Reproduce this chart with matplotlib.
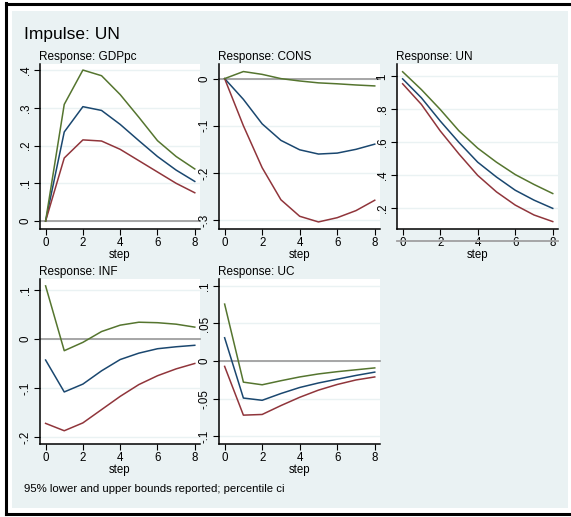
import numpy as np
import matplotlib
matplotlib.use("Agg")
from matplotlib import pyplot as plt
from matplotlib.patches import Rectangle
from matplotlib.lines import Line2D

plt.rcParams['font.family'] = ['Liberation Sans', 'DejaVu Sans']

steps = np.arange(9)

# orthogonalised irf of an UN shock, with 95% percentile bands
gdp_irf = [0, 0.236, 0.303, 0.293, 0.256, 0.213, 0.171, 0.135, 0.105]
gdp_lo = [0, 0.167, 0.215, 0.212, 0.190, 0.160, 0.130, 0.100, 0.075]
gdp_hi = [0, 0.309, 0.400, 0.385, 0.335, 0.275, 0.213, 0.171, 0.138]

cons_irf = [0, -0.044, -0.096, -0.131, -0.151, -0.160, -0.158, -0.150, -0.139]
cons_lo = [0, -0.100, -0.189, -0.257, -0.292, -0.304, -0.295, -0.280, -0.258]
cons_hi = [0, 0.015, 0.009, 0.0, -0.005, -0.009, -0.011, -0.0135, -0.0155]

un_irf = [0.985, 0.87, 0.73, 0.60, 0.48, 0.39, 0.31, 0.25, 0.20]
un_lo = [0.955, 0.83, 0.67, 0.53, 0.40, 0.30, 0.22, 0.16, 0.12]
un_hi = [1.028, 0.92, 0.80, 0.67, 0.565, 0.48, 0.405, 0.345, 0.29]

inf_irf = [-0.043, -0.108, -0.092, -0.065, -0.042, -0.029, -0.020, -0.016, -0.013]
inf_lo = [-0.172, -0.187, -0.171, -0.144, -0.117, -0.093, -0.075, -0.061, -0.050]
inf_hi = [0.108, -0.024, -0.007, 0.015, 0.028, 0.034, 0.033, 0.030, 0.024]

uc_irf = [0.031, -0.049, -0.052, -0.043, -0.035, -0.029, -0.024, -0.019, -0.0146]
uc_lo = [-0.007, -0.0717, -0.0708, -0.059, -0.048, -0.0385, -0.031, -0.025, -0.021]
uc_hi = [0.0757, -0.0279, -0.0314, -0.026, -0.021, -0.017, -0.014, -0.0115, -0.009]

yticks_gdp = [0, 0.1, 0.2, 0.3, 0.4]
yticks_cons = [0, -0.1, -0.2, -0.3]
yticks_un = [0.2, 0.4, 0.6, 0.8, 1]
yticks_inf = [0.1, 0, -0.1, -0.2]
yticks_uc = [0.1, 0.05, 0, -0.05, -0.1]

navy = '#1a476f'
maroon = '#90353b'
green = '#55752f'
bg = '#eaf2f3'

W, H = 571, 517
fig = plt.figure(figsize=(W / 100, H / 100), dpi=100)
fig.patch.set_facecolor('white')

# frame and graph region
fig.add_artist(Rectangle((12 / W, 1 - 508 / H), 556 / W, 497 / H, transform=fig.transFigure,
                         facecolor=bg, edgecolor='none', zorder=0))
for xs, ys in [((6, 571), (3.5, 3.5)), ((6, 6), (3, 514)), ((6, 571), (514, 514))]:
    fig.add_artist(Line2D([x / W for x in xs], [1 - y / H for y in ys], transform=fig.transFigure,
                          color='black', lw=2.2))


def stata_lab(v):
    s = ('%g' % v)
    s = s.replace('0.', '.')
    return s


def panel(box, title, irf, lo, hi, ylim, yticks):
    x0, y0, x1, y1 = box
    ax = fig.add_axes([x0 / W, 1 - y1 / H, (x1 - x0) / W, (y1 - y0) / H])
    ax.set_facecolor('white')
    ax.plot(steps, irf, color=navy, lw=1.1)
    ax.plot(steps, lo, color=maroon, lw=1.1)
    ax.plot(steps, hi, color=green, lw=1.1)
    ax.axhline(0, color='#a0a0a0', lw=1.3, zorder=1, clip_on=False)
    ax.set_xlim(-0.3, 8.28)
    ax.set_ylim(*ylim)
    ax.set_xticks([0, 2, 4, 6, 8])
    ax.set_yticks(yticks)
    ax.set_yticklabels([stata_lab(v) for v in yticks], rotation=90, va='center')
    ax.grid(axis='y', color=bg, lw=1.0)
    ax.set_axisbelow(True)
    for s in ['top', 'right']:
        ax.spines[s].set_visible(False)
    for s in ['left', 'bottom']:
        ax.spines[s].set_color('black')
        ax.spines[s].set_linewidth(1.1)
    ax.tick_params(length=4, width=0.8, labelsize=8.3, pad=2)
    ax.set_xlabel('step', fontsize=8.3, labelpad=0)
    ax.set_title(title, loc='left', fontsize=8.5, pad=3, x=-0.005)
    return ax


panel((40, 64, 200, 229), 'Response: GDPpc', gdp_irf, gdp_lo, gdp_hi, (-0.021, 0.416), yticks_gdp)
panel((219, 64, 380, 229), 'Response: CONS', cons_irf, cons_lo, cons_hi, (-0.319, 0.031), yticks_cons)
panel((397, 64, 558, 229), 'Response: UN', un_irf, un_lo, un_hi, (0.075, 1.075), yticks_un)
panel((40, 279, 200, 444), 'Response: INF', inf_irf, inf_lo, inf_hi, (-0.214, 0.122), yticks_inf)
panel((219, 279, 380, 444), 'Response: UC', uc_irf, uc_lo, uc_hi, (-0.110, 0.109), yticks_uc)

fig.text(24 / W, 1 - 35 / H, 'Impulse: UN', fontsize=12.5, va='center', ha='left')
fig.text(24 / W, 1 - 489 / H, '95% lower and upper bounds reported; percentile ci',
         fontsize=8.2, va='center', ha='left')

fig.savefig('out.png', dpi=100)
